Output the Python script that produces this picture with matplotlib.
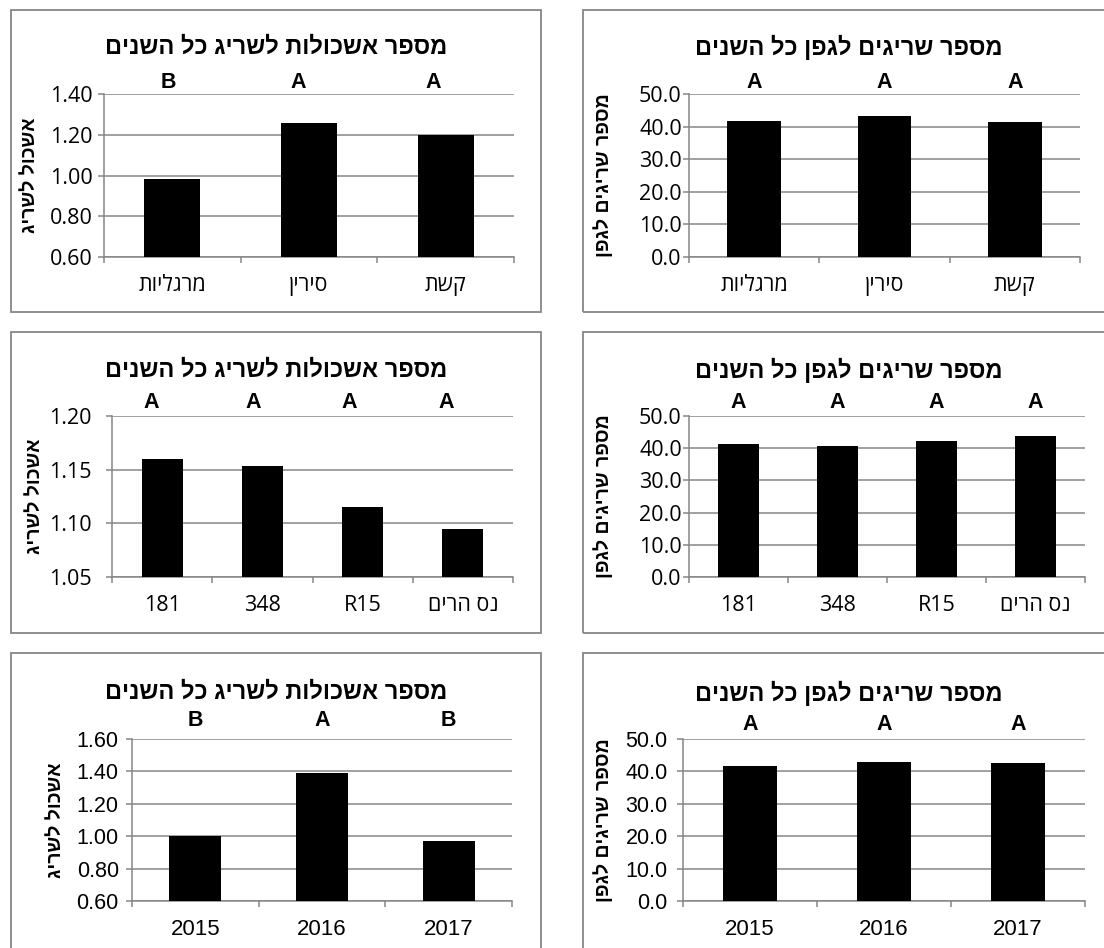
import numpy as np
import matplotlib
matplotlib.use("Agg")
import matplotlib.pyplot as plt
from matplotlib.patches import Rectangle
from matplotlib import transforms

# ---- data -------------------------------------------------------------
title_clusters = "מספר אשכולות לשריג כל השנים"
title_shoots = "מספר שריגים לגפן כל השנים"
ylabel_clusters = "אשכול לשריג"
ylabel_shoots = "מספר שריגים לגפן"

cultivars = ["מרגליות", "סירין", "קשת"]
cultivar_clusters = [0.985, 1.26, 1.20]
cultivar_clusters_sig = ["B", "A", "A"]
cultivar_shoots = [41.6, 43.2, 41.5]
cultivar_shoots_sig = ["A", "A", "A"]

rootstocks = ["181", "348", "R15", "נס הרים"]
rootstock_clusters = [1.160, 1.153, 1.115, 1.095]
rootstock_clusters_sig = ["A", "A", "A", "A"]
rootstock_shoots = [41.4, 40.8, 42.2, 43.8]
rootstock_shoots_sig = ["A", "A", "A", "A"]

years = ["2015", "2016", "2017"]
year_clusters = [1.00, 1.39, 0.97]
year_clusters_sig = ["B", "A", "B"]
year_shoots = [41.7, 43.0, 42.5]
year_shoots_sig = ["A", "A", "A"]

clusters_ticks_cultivar = [0.60, 0.80, 1.00, 1.20, 1.40]
clusters_ticks_rootstock = [1.05, 1.10, 1.15, 1.20]
clusters_ticks_year = [0.60, 0.80, 1.00, 1.20, 1.40, 1.60]
shoots_ticks = [0.0, 10.0, 20.0, 30.0, 40.0, 50.0]

# ---- styling ----------------------------------------------------------
W, H = 1104, 948
GRAY = "#868686"
HEB = ["Liberation Sans", "DejaVu Sans"]
NUM = ["Open Sans", "Liberation Sans", "DejaVu Sans"]


def vis(s):
    """Visual (left-to-right) order for Hebrew strings."""
    if any("\u0590" <= c <= "\u05ff" for c in s):
        return s[::-1]
    return s


fig = plt.figure(figsize=(W / 100, H / 100), dpi=100)
fig.patch.set_facecolor("white")


def fx(x):
    return x / W


def fy(y):
    return 1 - y / H


def panel(frame, plot, title, title_y, ylabel, ylabel_x, cats, vals, sig,
          sig_y, ticks, fmt, ytick_pad_px, tick_font, ytick_size, xtick_size,
          sig_dx=None):
    fl, ft, fr, fb = frame
    fig.patches.append(Rectangle((fx(fl), fy(fb)), fx(fr - fl), (fb - ft) / H,
                                 transform=fig.transFigure, fill=False,
                                 edgecolor=GRAY, linewidth=1.3, clip_on=False))
    pl, pt, pr, pb = plot
    ax = fig.add_axes([fx(pl), fy(pb), fx(pr - pl), (pb - pt) / H])
    n = len(cats)
    x = np.arange(n)
    ax.bar(x, vals, width=0.41, color="black", zorder=3)
    ax.set_xlim(-0.5, n - 0.5)
    ax.set_ylim(ticks[0], ticks[-1])
    ax.set_yticks(ticks)
    ax.set_yticklabels([fmt.format(t) for t in ticks], fontfamily=tick_font,
                       fontsize=ytick_size)
    ax.set_xticks(x)
    ax.set_xticklabels([vis(c) for c in cats], fontfamily=tick_font,
                       fontsize=xtick_size)
    ax.set_xticks(np.arange(n + 1) - 0.5, minor=True)
    ax.tick_params(axis="x", which="major", length=0, pad=13)
    ax.tick_params(axis="x", which="minor", length=4.5, width=1.1, color=GRAY,
                   direction="out")
    ax.tick_params(axis="y", length=4.5, width=1.1, color=GRAY, direction="out",
                   pad=ytick_pad_px * 0.72)
    ax.yaxis.grid(True, color=GRAY, linewidth=1.1, zorder=0)
    ax.set_axisbelow(True)
    for s in ("top", "right"):
        ax.spines[s].set_visible(False)
    for s in ("left", "bottom"):
        ax.spines[s].set_color(GRAY)
        ax.spines[s].set_linewidth(1.1)

    fig.text(fx((fl + fr) / 2), fy(title_y), vis(title), ha="center",
             va="center", fontsize=17, fontweight="bold", fontfamily=HEB)
    fig.text(fx(ylabel_x), fy((pt + pb) / 2), vis(ylabel), rotation=90,
             ha="center", va="center", fontsize=14, fontweight="bold",
             fontfamily=HEB)
    blend = transforms.blended_transform_factory(ax.transData, fig.transFigure)
    if sig_dx is None:
        sig_dx = [0] * n
    for i, s in enumerate(sig):
        ax.annotate(s, xy=(i, fy(sig_y)), xycoords=blend,
                    xytext=(sig_dx[i] * 0.72, 0), textcoords="offset points",
                    ha="center", va="center", fontsize=15.5, fontweight="bold",
                    fontfamily=HEB, annotation_clip=False)
    return ax


# top row: cultivars
panel((11, 10, 541, 312), (104, 94, 514, 257), title_clusters, 47,
      ylabel_clusters, 30, cultivars, cultivar_clusters, cultivar_clusters_sig,
      82, clusters_ticks_cultivar, "{:.2f}", 5, NUM, 15.5, 15.5,
      sig_dx=[-4, -11, -12])
panel((583, 10, 1115, 312), (689, 94, 1080, 257), title_shoots, 47,
      ylabel_shoots, 603, cultivars, cultivar_shoots, cultivar_shoots_sig,
      83, shoots_ticks, "{:.1f}", 1, NUM, 15.5, 15.5)

# middle row: rootstocks
panel((11, 332, 541, 633), (112, 416, 513, 577), title_clusters, 370,
      ylabel_clusters, 35, rootstocks, rootstock_clusters,
      rootstock_clusters_sig, 402, clusters_ticks_rootstock, "{:.2f}", 14, NUM,
      15.5, 15.5, sig_dx=[-11, -9, -13, -17])
panel((583, 332, 1115, 633), (689, 416, 1085, 577), title_shoots, 370,
      ylabel_shoots, 603, rootstocks, rootstock_shoots, rootstock_shoots_sig,
      402, shoots_ticks, "{:.1f}", 1, NUM, 15.5, 15.5)

# bottom row: years
panel((11, 653, 541, 960), (132, 739, 512, 901), title_clusters, 692,
      ylabel_clusters, 56, years, year_clusters, year_clusters_sig, 721,
      clusters_ticks_year, "{:.2f}", 7, HEB, 15.5, 16)
panel((583, 653, 1115, 960), (683, 739, 1085, 901), title_shoots, 693,
      ylabel_shoots, 603, years, year_shoots, year_shoots_sig, 724,
      shoots_ticks, "{:.1f}", 9, HEB, 15.5, 16)

fig.savefig("out.png", dpi=100, facecolor="white")
